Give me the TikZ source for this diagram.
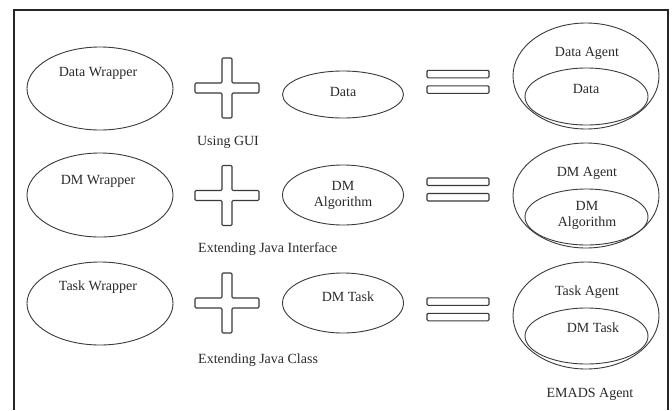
\documentclass[tikz,border=0pt]{standalone}
\usepackage{fontspec}
\setmainfont{Liberation Serif}
\usetikzlibrary{shapes.geometric}
\definecolor{linec}{HTML}{3A3A3A}
\definecolor{textc}{HTML}{2A2A2A}
\tikzset{
  ell/.style={draw=linec, line width=0.9pt, ellipse, inner sep=0pt},
  lbl/.style={font=\fontsize{14}{16}\selectfont, text=textc, inner sep=0pt, align=center},
  symb/.style={draw=linec, line width=1.1pt, rounded corners=1.2pt},
  plussign/.pic={
    \draw[symb] (-5,-30) -- (5,-30) -- (5,-5) -- (32,-5) -- (32,5) -- (5,5) -- (5,30)
      -- (-5,30) -- (-5,5) -- (-32,5) -- (-32,-5) -- (-5,-5) -- cycle;
  },
  eqsign/.pic={
    \draw[symb] (-31,-11.5) rectangle (31,-4);
    \draw[symb] (-31,4) rectangle (31,11.5);
  }
}
\begin{document}
\begin{tikzpicture}[x=1pt,y=-1pt]
\useasboundingbox (0,0) rectangle (672,410);
\fill[white] (0,0) rectangle (672,410);
% frame
\coordinate (fbl) at (14,410);
\coordinate (ftl) at (14,10);
\coordinate (ftr) at (668,10);
\coordinate (fbr) at (668,410);
\draw[line width=1.1pt, black!85] (fbl) -- (ftl) -- (ftr) -- (fbr);

% ---- row 1
\node[ell, minimum width=146pt, minimum height=83pt] (w1) at (100,88.5) {};
\node[lbl] (w1t) at (98,73) {Data Wrapper};
\pic at (227,88) {plussign};
\node[lbl] (u1) at (228,142) {Using GUI};
\node[ell, minimum width=121pt, minimum height=47pt] (m1) at (343,94.5) {};
\node[lbl] (m1t) at (343,92) {Data};
\pic at (458,81.8) {eqsign};
\node[ell, minimum width=146pt, minimum height=106pt] (a1) at (586,76) {};
\node[lbl] (a1t) at (587,53) {Data Agent};
\node[ell, minimum width=123pt, minimum height=57pt] (i1) at (586.5,96.5) {};
\node[lbl] (i1t) at (586,89) {Data};

% ---- row 2
\node[ell, minimum width=146pt, minimum height=84pt] (w2) at (100,195) {};
\node[lbl] (w2t) at (98,181) {DM Wrapper};
\pic at (227,195.5) {plussign};
\node[lbl, anchor=west] (u2) at (198,249) {Extending Java Interface};
\node[ell, minimum width=121pt, minimum height=60pt] (m2) at (343,195) {};
\node[lbl] (m2t) at (343,195) {DM\\Algorithm};
\pic at (458,189.5) {eqsign};
\node[ell, minimum width=146pt, minimum height=105pt] (a2) at (586,195.5) {};
\node[lbl] (a2t) at (587,173) {DM Agent};
\node[ell, minimum width=123pt, minimum height=56pt] (i2) at (586.5,217) {};
\node[lbl] (i2t) at (587,215) {DM\\Algorithm};

% ---- row 3
\node[ell, minimum width=146pt, minimum height=83pt] (w3) at (100,303.5) {};
\node[lbl] (w3t) at (98,287) {Task Wrapper};
\pic at (227,303) {plussign};
\node[lbl, anchor=west] (u3) at (198,360) {Extending Java Class};
\node[ell, minimum width=121pt, minimum height=60pt] (m3) at (343,303) {};
\node[lbl] (m3t) at (348,297) {DM Task};
\pic at (458,309.3) {eqsign};
\node[ell, minimum width=146pt, minimum height=107pt] (a3) at (586,315.5) {};
\node[lbl] (a3t) at (587,292) {Task Agent};
\node[ell, minimum width=123pt, minimum height=56pt] (i3) at (586.5,336) {};
\node[lbl] (i3t) at (593,328) {DM Task};
\node[lbl] (emads) at (590,394) {EMADS Agent};
\end{tikzpicture}
\end{document}
